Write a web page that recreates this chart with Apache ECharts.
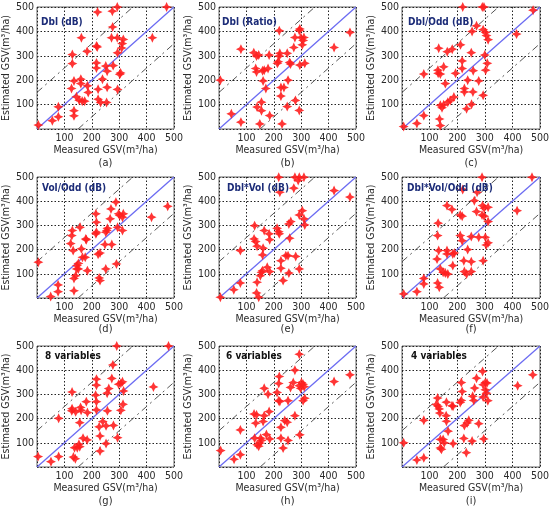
<!DOCTYPE html>
<html>
<head>
<meta charset="utf-8">
<script src="https://cdn.jsdelivr.net/npm/echarts@6/dist/echarts.min.js"></script>
<style>html,body{margin:0;padding:0;background:#fff}#c{width:550px;height:514px}</style>
</head>
<body>
<div id="c"></div>
<script>
const panelNames = ['Dbl (dB)','Dbl (Ratio)','Dbl/Odd (dB)','Vol/Odd (dB)','Dbl*Vol (dB)','Dbl*Vol/Odd (dB)','8 variables','6 variables','4 variables'];
const panelLetters = ['(a)','(b)','(c)','(d)','(e)','(f)','(g)','(h)','(i)'];
const xAxisName = 'Measured GSV(m³/ha)';
const yAxisName = 'Estimated GSV(m³/ha)';
const axisMin = 0, axisMax = 500, axisStep = 100;
const bandOffset = 150;

const dataA = [[5,16],[56,34],[78,50],[78,91],[135,54],[135,75],[144,132],[154,118],[165,114],[174,114],[126,166],[135,197],[160,204],[160,186],[184,177],[187,150],[129,268],[129,305],[162,374],[183,318],[221,479],[276,418],[275,483],[293,500],[473,500],[421,374],[293,374],[315,367],[272,374],[311,350],[309,332],[294,312],[217,340],[220,336],[217,271],[217,250],[251,258],[278,260],[256,237],[305,230],[302,224],[239,204],[256,171],[223,163],[294,162],[223,122],[232,109],[254,109]];
const dataB = [[5,200],[45,62],[80,327],[80,28],[139,90],[155,110],[155,75],[149,21],[161,197],[171,166],[185,55],[127,313],[137,299],[145,303],[134,248],[137,234],[159,239],[165,241],[179,248],[183,303],[220,403],[222,310],[220,299],[216,276],[213,269],[226,170],[237,170],[226,135],[230,21],[252,200],[249,310],[258,273],[261,266],[273,334],[277,375],[295,410],[293,404],[299,375],[310,375],[307,363],[304,345],[295,262],[313,269],[279,117],[249,92],[293,76],[420,334],[478,396]];
const dataC = [[6,10],[54,23],[79,55],[79,225],[136,41],[139,14],[139,97],[145,87],[151,99],[166,110],[175,117],[188,131],[157,186],[151,255],[130,241],[131,228],[139,225],[133,331],[164,317],[182,327],[194,228],[212,345],[218,279],[218,248],[226,166],[226,152],[238,200],[251,313],[258,239],[278,197],[257,152],[252,101],[234,83],[254,400],[270,423],[291,500],[297,500],[220,500],[294,407],[303,396],[306,383],[312,366],[300,303],[309,269],[303,241],[294,138],[415,389],[475,487]];
const dataD = [[5,148],[50,6],[77,54],[77,26],[135,30],[135,81],[141,92],[146,134],[151,143],[151,120],[145,120],[184,113],[166,168],[176,168],[162,203],[132,196],[123,225],[129,279],[127,258],[157,292],[178,244],[180,241],[215,348],[217,313],[215,265],[217,272],[223,181],[230,186],[227,83],[230,72],[251,120],[248,221],[251,272],[255,279],[257,288],[273,221],[267,327],[270,368],[288,396],[294,292],[290,141],[298,348],[302,341],[312,334],[315,348],[312,279],[418,334],[477,379]];
const dataE = [[5,3],[54,34],[78,62],[78,196],[137,21],[145,3],[139,65],[151,92],[155,106],[159,113],[176,127],[185,109],[159,178],[161,206],[130,299],[128,244],[134,233],[139,214],[183,265],[185,241],[165,279],[212,288],[218,274],[220,265],[222,437],[218,499],[226,154],[226,123],[234,72],[244,175],[252,175],[255,103],[258,247],[262,316],[255,306],[273,454],[277,499],[293,499],[289,486],[310,499],[280,172],[293,120],[293,343],[304,361],[310,327],[313,302],[420,444],[478,417]];
const dataF = [[6,17],[54,26],[79,58],[79,81],[129,62],[135,44],[139,120],[149,106],[157,103],[166,99],[184,134],[127,161],[133,196],[129,258],[131,309],[163,196],[163,182],[184,182],[190,186],[163,382],[181,366],[211,343],[218,338],[211,258],[218,237],[224,154],[226,109],[234,99],[238,200],[251,150],[251,109],[251,254],[220,448],[272,437],[262,402],[270,357],[278,251],[290,499],[292,382],[298,371],[290,343],[298,338],[312,375],[312,316],[302,251],[305,219],[312,228],[294,154],[417,361],[471,499]];
const dataG = [[4,43],[51,22],[79,43],[79,201],[133,41],[140,34],[137,80],[147,80],[153,94],[156,84],[168,119],[183,112],[156,183],[161,234],[159,246],[128,310],[128,241],[127,232],[141,228],[180,270],[184,225],[217,363],[217,338],[214,297],[217,270],[217,236],[227,166],[240,188],[230,128],[230,66],[252,170],[252,97],[257,232],[262,324],[256,305],[273,366],[279,172],[277,422],[291,500],[294,121],[298,342],[306,346],[312,352],[316,314],[306,234],[314,259],[425,331],[480,500]];
const dataH = [[6,68],[55,32],[78,51],[78,153],[130,119],[134,181],[128,219],[137,215],[139,92],[145,86],[149,99],[155,110],[152,119],[173,134],[185,116],[161,188],[165,212],[165,325],[179,301],[183,229],[212,308],[218,345],[220,374],[218,274],[222,271],[226,164],[226,119],[234,78],[240,192],[249,185],[252,110],[252,274],[261,329],[271,349],[277,400],[277,212],[293,466],[293,336],[295,133],[301,349],[307,342],[311,332],[298,325],[313,284],[307,274],[420,353],[478,381]];
const dataI = [[6,100],[54,29],[79,38],[79,193],[139,114],[139,79],[143,73],[149,114],[153,100],[167,148],[185,97],[124,258],[131,251],[135,240],[137,223],[129,285],[161,268],[160,212],[161,189],[181,253],[185,251],[215,349],[218,312],[211,267],[215,275],[224,118],[226,171],[233,59],[236,182],[242,193],[254,107],[256,292],[260,275],[270,367],[263,326],[278,179],[292,395],[294,340],[302,349],[308,347],[294,289],[302,319],[306,305],[311,274],[296,116],[419,336],[474,381]];
const panelData = [dataA,dataB,dataC,dataD,dataE,dataF,dataG,dataH,dataI];

const refLine = [[axisMin,axisMin],[axisMax,axisMax]];
const upperBand = [[axisMin,axisMin+bandOffset],[axisMax-bandOffset,axisMax]];
const lowerBand = [[axisMin+bandOffset,axisMin],[axisMax,axisMax-bandOffset]];

const FONT = "'Liberation Sans Narrow','DejaVu Sans Condensed','Liberation Sans',sans-serif";
const cols = [{left:37,width:137,cx:105.5,nameGap:21},{left:219,width:137,cx:287.5,nameGap:23},{left:402,width:138,cx:471,nameGap:21}];
const rows = [{top:7,height:122,letterY:158,titleY:17,nameGap:16},{top:177,height:121,letterY:324,titleY:183,nameGap:16},{top:346,height:121,letterY:496,titleY:351,nameGap:14}];
const titleX = [41,222,408,42,227,407,45,226,411];

const star = 'path://M0,-10 L3.2,-3.2 L10,0 L3.2,3.2 L0,10 L-3.2,3.2 L-10,0 L-3.2,-3.2 Z';

const grids=[], xAxes=[], yAxes=[], series=[], titles=[];
for (let i=0;i<9;i++){
  const c = cols[i%3], r = rows[Math.floor(i/3)];
  grids.push({left:c.left, top:r.top, width:c.width, height:r.height, show:true, borderColor:'#666', borderWidth:1, outerBoundsMode:'none', containLabel:false});
  const common = {
    gridIndex:i, type:'value', min:axisMin, max:axisMax, interval:axisStep,
    axisLine:{show:false}, axisTick:{show:false},
    splitLine:{show:true, lineStyle:{color:'#222', type:[1.5,2], width:1}},
    nameTextStyle:{fontFamily:FONT, fontSize:10.5, color:'#2a2a2a'},
    axisLabel:{fontFamily:FONT, fontSize:10.5, color:'#2a2a2a', formatter: v => v===0 ? '' : String(v)}
  };
  xAxes.push(Object.assign({}, common, {name:xAxisName, nameLocation:'middle', nameGap:r.nameGap, axisLabel:Object.assign({}, common.axisLabel, {margin:4})}));
  yAxes.push(Object.assign({}, common, {name:yAxisName, nameLocation:'middle', nameGap:c.nameGap, nameRotate:90, axisLabel:Object.assign({}, common.axisLabel, {margin:3})}));
  series.push({type:'line', xAxisIndex:i, yAxisIndex:i, data:upperBand, symbol:'none', silent:true, z:2, lineStyle:{color:'#555', width:1, type:[7,4,2,4]}});
  series.push({type:'line', xAxisIndex:i, yAxisIndex:i, data:lowerBand, symbol:'none', silent:true, z:2, lineStyle:{color:'#555', width:1, type:[7,4,2,4]}});
  series.push({type:'line', xAxisIndex:i, yAxisIndex:i, data:refLine, symbol:'none', silent:true, z:3, lineStyle:{color:'#6b6bf2', width:1.3}});
  series.push({type:'scatter', xAxisIndex:i, yAxisIndex:i, data:panelData[i], symbol:star, symbolSize:10, clip:false, z:5, itemStyle:{color:'#ff1f1f', opacity:0.9}});
  titles.push({text:panelNames[i], left:titleX[i], top:r.titleY, padding:0, textStyle:{fontFamily:FONT, fontSize:10, fontWeight:'bold', color: i<6 ? '#1c2c78' : '#111'}});
  titles.push({text:panelLetters[i], left:c.cx, top:r.letterY, padding:0, textAlign:'center', textStyle:{fontFamily:FONT, fontSize:11, fontWeight:'normal', color:'#2a2a2a'}});
}

const chart = echarts.init(document.getElementById('c'), null, {renderer:'canvas'});
chart.setOption({animation:false, backgroundColor:'#fff', title:titles, grid:grids, xAxis:xAxes, yAxis:yAxes, series:series});
</script>
</body>
</html>
